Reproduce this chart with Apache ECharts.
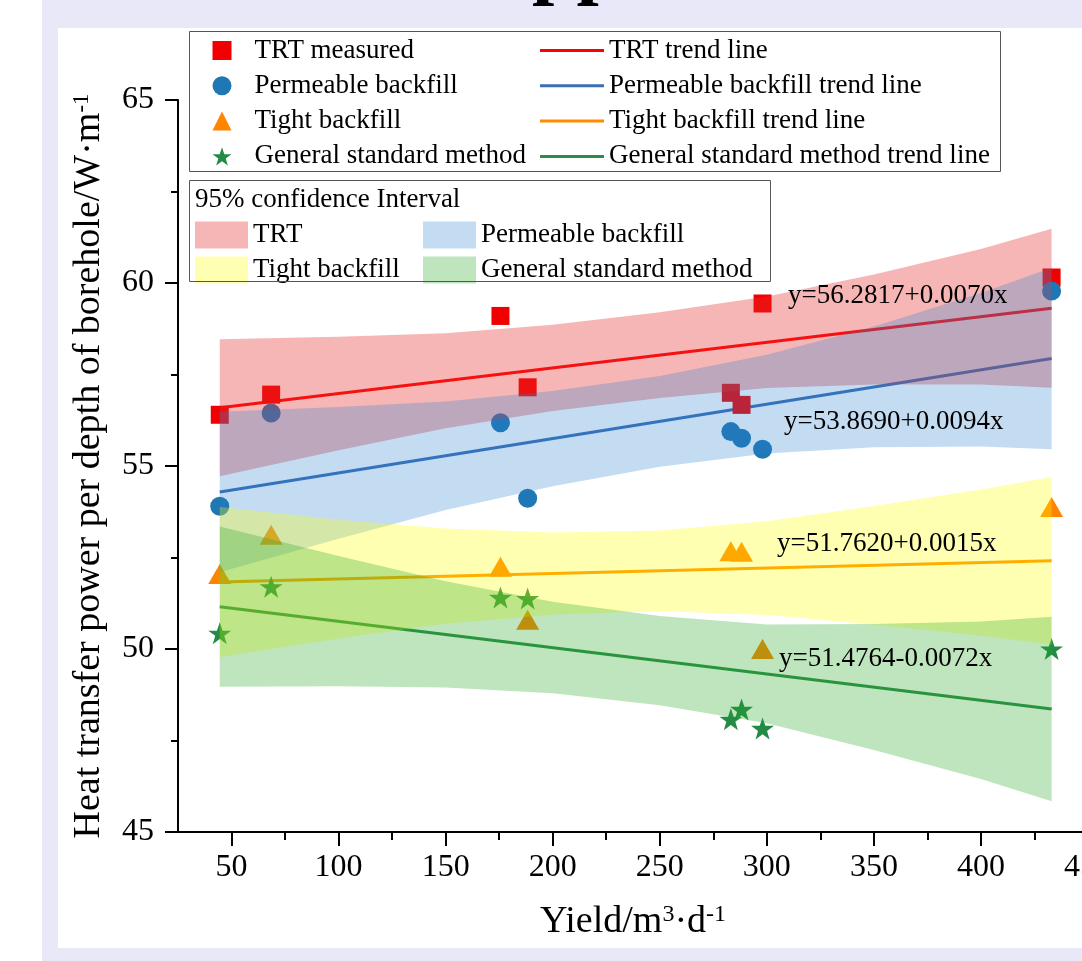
<!DOCTYPE html>
<html><head><meta charset="utf-8">
<script src="https://cdn.jsdelivr.net/npm/echarts@6/dist/echarts.min.js"></script>
<style>html,body{margin:0;padding:0;background:#fff}#c{width:1082px;height:961px}</style>
</head><body><div id="c"></div>
<script>
// ---- data ----
const yieldX = [44.5, 68.5, 175.6, 188.3, 283.2, 288.2, 298.0, 433.0];
const trtY   = [56.40, 56.95, 59.10, 57.15, 57.00, 56.67, 59.44, 60.15];
const permY  = [53.90, 56.45, 56.18, 54.12, 55.94, 55.76, 55.46, 59.78];
const tightY = [52.05, 53.12, 52.25, 50.80, 52.67, 52.66, 50.00, 53.88];
const stdY   = [50.43, 51.70, 51.41, 51.38, 48.08, 48.35, 47.83, 50.00];

const seriesNames = ['TRT measured', 'Permeable backfill', 'Tight backfill', 'General standard method'];
const trendNames = ['TRT trend line', 'Permeable backfill trend line', 'Tight backfill trend line', 'General standard method trend line'];
const bandNames = ['TRT', 'Permeable backfill', 'Tight backfill', 'General standard method'];
const trendIntercept = [56.2817, 53.8690, 51.7620, 51.4764];
const trendSlope = [0.0070, 0.0094, 0.0015, -0.0072];

// 95% confidence band bounds read at these yields
const bandX = [44.5, 100, 150, 200, 250, 300, 350, 400, 433];
const trtUpper   = [58.46, 58.53, 58.63, 58.86, 59.20, 59.63, 60.23, 60.93, 61.48];
const trtLower   = [54.72, 55.43, 56.03, 56.50, 56.86, 57.13, 57.23, 57.23, 57.14];
const permUpper  = [56.48, 56.61, 56.76, 57.05, 57.46, 58.04, 58.81, 59.73, 60.42];
const permLower  = [52.10, 53.01, 53.80, 54.45, 54.98, 55.34, 55.51, 55.53, 55.46];
const tightUpper = [53.88, 53.53, 53.29, 53.18, 53.24, 53.49, 53.91, 54.36, 54.70];
const tightLower = [49.78, 50.29, 50.69, 50.94, 51.04, 50.93, 50.67, 50.36, 50.12];
const stdUpper   = [53.35, 52.54, 51.85, 51.29, 50.90, 50.67, 50.68, 50.75, 50.88];
const stdLower   = [48.97, 48.98, 48.95, 48.79, 48.46, 47.97, 47.24, 46.45, 45.84];

const xTicks = [50, 100, 150, 200, 250, 300, 350, 400, 450];
const xMinorTicks = [75, 125, 175, 225, 275, 325, 375, 425];
const yTicks = [45, 50, 55, 60, 65];

// ---- styling ----
const FONT = 'Liberation Serif';
const markColors = ['#F00000', '#1F77B4', '#FF8400', '#238B45'];
const lineColors = ['#FF0000', '#3A6EB5', '#FF8C00', '#2A8C48'];
const bandColors = ['rgba(228,45,45,0.35)', 'rgba(40,130,210,0.28)', 'rgba(255,255,0,0.30)', 'rgba(40,170,40,0.30)'];
const STAR = 'path://M50,0 L61.8,35.1 L98.1,35.1 L68.8,56.8 L79.4,91.9 L50,70.2 L20.6,91.9 L31.2,56.8 L1.9,35.1 L38.2,35.1 Z';
const symbols = ['rect', 'circle', 'triangle', STAR];
const symbolSizes = [18, 19, [23, 20], 23];

const pointSets = [trtY, permY, tightY, stdY];
const bands = [[trtUpper, trtLower], [permUpper, permLower], [tightUpper, tightLower], [stdUpper, stdLower]];

const xMin = Math.min(...yieldX), xMax = Math.max(...yieldX);

const series = [];
// trend lines
trendNames.forEach((n, k) => {
  series.push({
    type: 'line', name: n, z: 3, symbol: 'none', silent: true,
    data: [[xMin, trendIntercept[k] + trendSlope[k] * xMin], [xMax, trendIntercept[k] + trendSlope[k] * xMax]],
    lineStyle: { color: lineColors[k], width: 3 }, itemStyle: { color: lineColors[k] }
  });
});
// scatter
seriesNames.forEach((n, k) => {
  series.push({
    type: 'scatter', name: n, z: 4, symbol: symbols[k], symbolSize: symbolSizes[k], symbolKeepAspect: true,
    data: yieldX.map((x, i) => [x, pointSets[k][i]]),
    itemStyle: { color: markColors[k], opacity: 1 }
  });
});
// confidence bands (drawn over the marks, like the reference)
bandNames.forEach((n, k) => {
  const up = bands[k][0], lo = bands[k][1];
  series.push({
    type: 'custom', name: 'CI ' + n, z: 6, silent: true,
    data: bandX.map((x, i) => [x, up[i], lo[i]]),
    encode: { x: 0, y: [1, 2] },
    itemStyle: { color: bandColors[k] },
    renderItem: (params, api) => {
      if (params.dataIndex !== 0) return null;
      const pts = [];
      for (let i = 0; i < bandX.length; i++) pts.push(api.coord([bandX[i], up[i]]));
      for (let i = bandX.length - 1; i >= 0; i--) pts.push(api.coord([bandX[i], lo[i]]));
      return { type: 'polygon', shape: { points: pts }, style: { fill: bandColors[k] } };
    }
  });
});

function eqText(k) {
  const b = trendSlope[k];
  return 'y=' + trendIntercept[k].toFixed(4) + (b >= 0 ? '+' : '-') + Math.abs(b).toFixed(4) + 'x';
}
const eqPos = [[788, 296], [784, 422], [777, 544], [779, 659]];

const legText = { color: '#000', fontFamily: FONT, fontSize: 27, lineHeight: 27 };

const option = {
  backgroundColor: '#ffffff',
  animation: false,
  grid: { left: 178, top: 100, width: 910, height: 732, containLabel: false, outerBoundsMode: 'none' },
  xAxis: [{
    type: 'value', min: 25, max: 450, position: 'bottom',
    axisLine: { show: true, onZero: false, lineStyle: { color: '#000', width: 2 } },
    axisTick: { show: true, inside: false, length: 14, customValues: xTicks, lineStyle: { color: '#000', width: 2 } },
    axisLabel: { customValues: xTicks, color: '#000', fontFamily: FONT, fontSize: 32, margin: 20 },
    splitLine: { show: false },
    name: 'Yield/m{sup|3}·d{sup|-1}', nameLocation: 'middle', nameGap: 71,
    nameTextStyle: { color: '#000', fontFamily: FONT, fontSize: 38, lineHeight: 38,
      rich: { sup: { fontFamily: FONT, fontSize: 24, verticalAlign: 'top', lineHeight: 38, padding: [0, 0, 12, 0] } } }
  }, {
    type: 'value', min: 25, max: 450, position: 'bottom',
    axisLine: { show: false, onZero: false },
    axisTick: { show: true, inside: false, length: 8, customValues: xMinorTicks, lineStyle: { color: '#000', width: 2 } },
    axisLabel: { show: false }, splitLine: { show: false }
  }],
  yAxis: [{
    type: 'value', min: 45, max: 65, interval: 5,
    axisLine: { show: true, onZero: false, lineStyle: { color: '#000', width: 2 } },
    axisTick: { show: true, inside: false, length: 13, lineStyle: { color: '#000', width: 2 } },
    minorTick: { show: true, splitNumber: 2, length: 7, lineStyle: { color: '#000', width: 2 } },
    axisLabel: { color: '#000', fontFamily: FONT, fontSize: 32, margin: 24 },
    splitLine: { show: false },
    name: 'Heat transfer power per depth of borehole/W·m{sup|-1}', nameLocation: 'middle', nameGap: 70,
    nameTextStyle: { color: '#000', fontFamily: FONT, fontSize: 38, lineHeight: 38,
      rich: { sup: { fontFamily: FONT, fontSize: 23, verticalAlign: 'top', lineHeight: 38, padding: [0, 0, 12, 0] } } }
  }],
  legend: [
    { data: seriesNames, orient: 'vertical', left: 207.5, top: 32, itemWidth: 19, itemHeight: 19, itemGap: 8.3,
      selectedMode: false, textStyle: Object.assign({ padding: [0, 0, 0, 18] }, legText) },
    { data: trendNames, orient: 'vertical', left: 535, top: 32, itemWidth: 64, itemHeight: 3, itemGap: 8.3, icon: 'rect',
      selectedMode: false, textStyle: Object.assign({ padding: [0, 0, 0, 0] }, legText) },
    { data: ['CI ' + bandNames[0], 'CI ' + bandNames[2]], orient: 'vertical', left: 190, top: 216.5, itemWidth: 53, itemHeight: 27,
      itemGap: 8, icon: 'rect', selectedMode: false, formatter: n => n.slice(3), textStyle: legText },
    { data: ['CI ' + bandNames[1], 'CI ' + bandNames[3]], orient: 'vertical', left: 418, top: 216.5, itemWidth: 53, itemHeight: 27,
      itemGap: 8, icon: 'rect', selectedMode: false, formatter: n => n.slice(3), textStyle: legText }
  ],
  graphic: [
    { type: 'rect', z: -100, silent: true, shape: { x: 42, y: 0, width: 1040, height: 961 }, style: { fill: '#E8E8F8' } },
    { type: 'rect', z: -99, silent: true, shape: { x: 58, y: 28, width: 1024, height: 920 }, style: { fill: '#FFFFFF' } },
    { type: 'text', z: -98, silent: true, style: { text: 'pp', x: 532, y: 8, fill: '#000', font: 'bold 80px "Liberation Serif"', verticalAlign: 'bottom', align: 'left' } },
    { type: 'rect', z: 10, silent: true, shape: { x: 189.5, y: 31.5, width: 811, height: 140 }, style: { fill: 'none', stroke: '#555', lineWidth: 1 } },
    { type: 'rect', z: 10, silent: true, shape: { x: 189.5, y: 180.5, width: 581, height: 101 }, style: { fill: 'none', stroke: '#555', lineWidth: 1 } },
    { type: 'text', z: 10, silent: true, style: { text: '95% confidence Interval', x: 195, y: 200, fill: '#000', font: '27px "Liberation Serif"', verticalAlign: 'middle' } }
  ].concat(eqPos.map((p, k) => ({
    type: 'text', z: 10, silent: true,
    style: { text: eqText(k), x: p[0], y: p[1], fill: '#000', font: '27px "Liberation Serif"', verticalAlign: 'middle' }
  }))),
  series: series
};

const chart = echarts.init(document.getElementById('c'), null, { renderer: 'canvas' });
chart.setOption(option);
</script>
</body></html>
